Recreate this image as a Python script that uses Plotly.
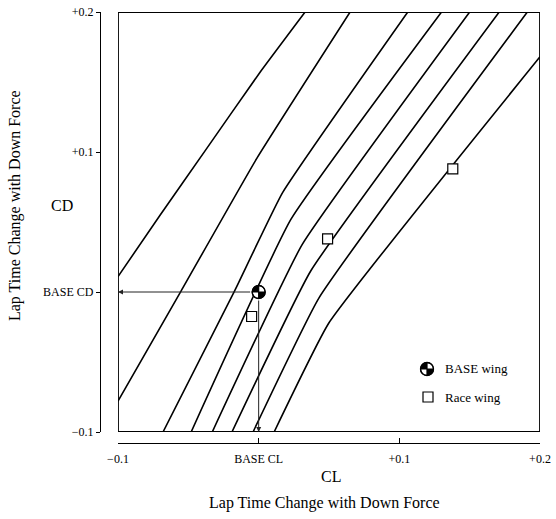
import numpy as np
import plotly.graph_objects as go

W, H = 556, 519
FONT = "Liberation Serif"

# ---- data (CL on x, CD on y) ----
line1_cl = [-0.100, -0.070, -0.038, 0.001, 0.033]
line1_cd = [0.011, 0.055, 0.101, 0.157, 0.200]
line2_cl = [-0.100, -0.055, -0.001, 0.065]
line2_cd = [-0.078, 0.001, 0.096, 0.200]
line3_cl = [-0.068, -0.017, 0.017, 0.106]
line3_cd = [-0.100, 0.001, 0.071, 0.200]
line4_cl = [-0.048, 0.023, 0.130]
line4_cd = [-0.100, 0.052, 0.200]
line5_cl = [-0.033, 0.031, 0.150]
line5_cd = [-0.100, 0.034, 0.200]
line6_cl = [-0.019, 0.037, 0.171]
line6_cd = [-0.100, 0.015, 0.200]
line7_cl = [-0.004, 0.043, 0.191]
line7_cd = [-0.100, -0.004, 0.200]
line8_cl = [0.011, 0.050, 0.200]
line8_cd = [-0.100, -0.022, 0.168]

base_cl = [0.0]
base_cd = [0.0]
race_cl = [-0.005, 0.049, 0.138]
race_cd = [-0.0175, 0.038, 0.088]

x_range = [-0.1, 0.2]
y_range = [-0.1, 0.2]
xtick_vals = [-0.1, 0.0, 0.1, 0.2]
xtick_text = ["\u22120.1", "BASE CL", "+0.1", "+0.2"]
ytick_vals = [-0.1, 0.0, 0.1, 0.2]
ytick_text = ["\u22120.1", "BASE CD", "+0.1", "+0.2"]

# ---- layout geometry (pixels) ----
PX_L, PX_R = 118, 540
PY_T, PY_B = 12, 432
YAXIS_PX = 100
XAXIS_PY = 443

dxpp = (x_range[1] - x_range[0]) / (PX_R - PX_L)
dypp = (y_range[1] - y_range[0]) / (PY_B - PY_T)


def px2x(px):
    return x_range[0] + (px - PX_L) * dxpp


def py2y(py):
    return y_range[0] + (PY_B - py) * dypp


def wedge(cx, cy, a0, a1, rpx=6.5, n=16):
    t = np.radians(np.linspace(a0, a1, n))
    xs = [cx] + list(cx + rpx * dxpp * np.cos(t)) + [cx]
    ys = [cy] + list(cy + rpx * dypp * np.sin(t)) + [cy]
    return xs, ys


fig = go.Figure()

lines = [(line1_cl, line1_cd), (line2_cl, line2_cd), (line3_cl, line3_cd),
         (line4_cl, line4_cd), (line5_cl, line5_cd), (line6_cl, line6_cd),
         (line7_cl, line7_cd), (line8_cl, line8_cd)]
for xs, ys in lines:
    fig.add_trace(go.Scatter(x=xs, y=ys, mode="lines",
                             line=dict(color="black", width=1.6,
                                       shape="spline", smoothing=0.35),
                             hoverinfo="skip", showlegend=False))

fig.add_trace(go.Scatter(x=race_cl, y=race_cd, mode="markers",
                         marker=dict(symbol="square", size=10, color="white",
                                     line=dict(color="black", width=1.2)),
                         showlegend=False))


def base_symbol(cx, cy):
    fig.add_trace(go.Scatter(x=[cx], y=[cy], mode="markers",
                             marker=dict(symbol="circle", size=13, color="white",
                                         line=dict(color="black", width=1.3)),
                             showlegend=False, hoverinfo="skip"))
    for a0, a1 in [(90, 180), (270, 360)]:
        wx, wy = wedge(cx, cy, a0, a1)
        fig.add_trace(go.Scatter(x=wx, y=wy, mode="lines", fill="toself",
                                 fillcolor="black", line=dict(width=0, color="black"),
                                 showlegend=False, hoverinfo="skip"))
    fig.add_trace(go.Scatter(x=[cx], y=[cy], mode="markers",
                             marker=dict(symbol="circle-cross-open", size=13, color="black",
                                         line=dict(color="black", width=1.2)),
                             showlegend=False, hoverinfo="skip"))


base_symbol(base_cl[0], base_cd[0])

# legend (manual)
LEG_X = 427
base_symbol(px2x(LEG_X), py2y(369))
fig.add_trace(go.Scatter(x=[px2x(LEG_X + 1)], y=[py2y(397)], mode="markers",
                         marker=dict(symbol="square", size=10, color="white",
                                     line=dict(color="black", width=1.2)),
                         showlegend=False, hoverinfo="skip"))

annotations = [
    dict(x=x_range[0], y=base_cd[0], ax=base_cl[0], ay=base_cd[0],
         xref="x", yref="y", axref="x", ayref="y", text="", showarrow=True,
         arrowhead=2, arrowsize=1, arrowwidth=1, arrowcolor="#222",
         startstandoff=7),
    dict(x=base_cl[0], y=y_range[0], ax=base_cl[0], ay=base_cd[0],
         xref="x", yref="y", axref="x", ayref="y", text="", showarrow=True,
         arrowhead=2, arrowsize=1, arrowwidth=1, arrowcolor="#222",
         startstandoff=7),
    dict(x=443 / W, y=1 - 368 / H, xref="paper", yref="paper", text="BASE wing",
         showarrow=False, xanchor="left", yanchor="middle",
         font=dict(family=FONT, size=13, color="black")),
    dict(x=443 / W, y=1 - 397 / H, xref="paper", yref="paper", text="Race wing",
         showarrow=False, xanchor="left", yanchor="middle",
         font=dict(family=FONT, size=13, color="black")),
    dict(x=62 / W, y=1 - 205 / H, xref="paper", yref="paper", text="CD",
         showarrow=False, xanchor="center", yanchor="middle",
         font=dict(family=FONT, size=16, color="black")),
    dict(x=331 / W, y=1 - 476 / H, xref="paper", yref="paper", text="CL",
         showarrow=False, xanchor="center", yanchor="middle",
         font=dict(family=FONT, size=16, color="black")),
    dict(x=324 / W, y=1 - 503 / H, xref="paper", yref="paper",
         text="Lap Time Change with Down Force",
         showarrow=False, xanchor="center", yanchor="middle",
         font=dict(family=FONT, size=16, color="black")),
    dict(x=15 / W, y=1 - 206 / H, xref="paper", yref="paper",
         text="Lap Time Change with Down Force", textangle=-90,
         showarrow=False, xanchor="center", yanchor="middle",
         font=dict(family=FONT, size=16, color="black")),
]

shapes = [
    dict(type="rect", xref="x", yref="y", x0=x_range[0], x1=x_range[1],
         y0=y_range[0], y1=y_range[1], line=dict(color="black", width=1.8),
         layer="above"),
]

fig.update_layout(
    width=W, height=H,
    margin=dict(l=0, r=0, t=0, b=0),
    paper_bgcolor="white", plot_bgcolor="white",
    template="none",
    showlegend=False,
    font=dict(family=FONT, size=12, color="black"),
    xaxis=dict(range=x_range, domain=[PX_L / W, PX_R / W], anchor="free",
               position=1 - XAXIS_PY / H, showgrid=False, zeroline=False,
               showline=True, linecolor="black", linewidth=1.3,
               ticks="inside", ticklen=5, tickwidth=1, tickcolor="black",
               tickvals=xtick_vals, ticktext=xtick_text, ticklabelstandoff=4,
               tickfont=dict(family=FONT, size=12, color="black"),
               automargin=False, fixedrange=True),
    yaxis=dict(range=y_range, domain=[1 - PY_B / H, 1 - PY_T / H], anchor="free",
               position=YAXIS_PX / W, showgrid=False, zeroline=False,
               showline=True, linecolor="black", linewidth=1.3,
               ticks="outside", ticklen=4, tickwidth=1, tickcolor="black",
               tickvals=ytick_vals, ticktext=ytick_text,
               tickfont=dict(family=FONT, size=12, color="black"),
               automargin=False, fixedrange=True),
    annotations=annotations,
    shapes=shapes,
)

fig.write_html("out.html", config={"displayModeBar": False},
               post_script="document.body.style.margin='0';document.body.style.overflow='hidden';")
